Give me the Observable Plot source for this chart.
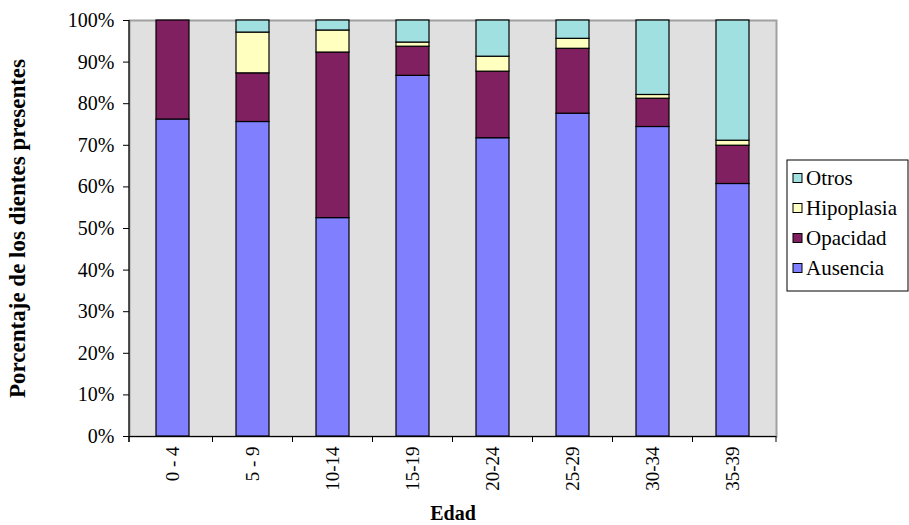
<!DOCTYPE html>
<html>
<head>
<meta charset="utf-8">
<script src="https://cdn.jsdelivr.net/npm/d3@7"></script>
<script src="https://cdn.jsdelivr.net/npm/@observablehq/plot@0.6"></script>
<style>
  body { margin: 0; background: #fff; }
  #chart svg, #chart svg text { font-family: "Liberation Serif", "Times New Roman", serif; }
</style>
</head>
<body>
<div id="chart"></div>
<script>
// Grupos de edad (eje X)
const edades = ["0 - 4", "5 - 9", "10-14", "15-19", "20-24", "25-29", "30-34", "35-39"];
// Series apiladas, de abajo hacia arriba
const series = ["Ausencia", "Opacidad", "Hipoplasia", "Otros"];
const colores = ["#8080ff", "#802060", "#ffffc0", "#a0e0e0"];
// Porcentaje de los dientes presentes por grupo de edad
const ausencia   = [76.2, 75.6, 52.5, 86.7, 71.7, 77.6, 74.4, 60.7];
const opacidad   = [23.8, 11.7, 39.8,  7.0, 16.0, 15.6,  6.8,  9.2];
const hipoplasia = [ 0.0,  9.8,  5.3,  1.0,  3.6,  2.4,  0.9,  1.2];
const otros      = [ 0.0,  2.9,  2.4,  5.3,  8.7,  4.4, 17.9, 28.9];
// Marcas del eje Y
const yTicks = [0, 10, 20, 30, 40, 50, 60, 70, 80, 90, 100];

const valores = [ausencia, opacidad, hipoplasia, otros];
const datos = series.flatMap((serie, s) =>
  edades.map((edad, i) => ({edad, serie, valor: valores[s][i]}))
).filter(d => d.valor > 0);

const SERIF = '"Liberation Serif", "Times New Roman", serif';

// Marcas auxiliares: línea del eje Y, marcas de separación del eje X y leyenda
function extras(index, scales, values, dimensions) {
  const {x, color} = scales;
  const {width, height, marginLeft, marginRight, marginTop, marginBottom} = dimensions;
  const g = d3.create("svg:g").style("font-family", SERIF).attr("text-anchor", "start");
  const x0 = marginLeft, x1 = width - marginRight;
  const y0 = marginTop, y1 = height - marginBottom;
  const bw = typeof x.bandwidth === "function" ? x.bandwidth() : 0;

  // eje Y
  g.append("line").attr("x1", x0).attr("x2", x0).attr("y1", y0).attr("y2", y1 + 6)
    .attr("stroke", "#000").attr("stroke-width", 1.2);
  // marcas entre categorías
  const bordes = [x0];
  for (let i = 1; i < edades.length; i++) bordes.push((x(edades[i - 1]) + x(edades[i]) + bw) / 2);
  bordes.push(x1);
  g.selectAll(".sep").data(bordes).join("line")
    .attr("x1", d => d).attr("x2", d => d).attr("y1", y1).attr("y2", y1 + 6)
    .attr("stroke", "#000").attr("stroke-width", 1);

  // leyenda
  const lx = x1 + 11, ly = 160, lw = 121, lh = 131;
  g.append("rect").attr("x", lx).attr("y", ly).attr("width", lw).attr("height", lh)
    .attr("fill", "#fff").attr("stroke", "#000").attr("stroke-width", 1);
  const orden = series.slice().reverse();
  const item = g.selectAll(".item").data(orden).join("g")
    .attr("transform", (d, i) => `translate(${lx + 6},${ly + 18 + i * 30})`);
  item.append("rect").attr("x", 0).attr("y", -4.5).attr("width", 9).attr("height", 9)
    .attr("fill", d => color(d)).attr("stroke", "#000").attr("stroke-width", 1);
  item.append("text").attr("x", 13).attr("y", 0).attr("dy", "0.35em")
    .style("font-family", SERIF).style("font-size", "21px")
    .attr("fill", "#000").text(d => d);
  return g.node();
}

const chart = Plot.plot({
  width: 909,
  height: 525,
  marginLeft: 129,
  marginRight: 133,
  marginTop: 20,
  marginBottom: 89,
  style: {fontFamily: SERIF, fontSize: "20px", background: "#fff"},
  x: {domain: edades, paddingInner: 0.59, paddingOuter: 0.295, label: null},
  y: {domain: [0, 100], label: null},
  color: {domain: series, range: colores},
  marks: [
    Plot.frame({fill: "#e0e0e0", stroke: "#a0a0a0", strokeWidth: 2}),
    Plot.barY(datos, {x: "edad", y: "valor", fill: "serie", stroke: "#000", strokeWidth: 1.2}),
    Plot.ruleY([0], {stroke: "#000", strokeWidth: 1.2}),
    Plot.axisY({ticks: yTicks, tickFormat: d => d + "%", tickSize: 6, tickPadding: 9, fontSize: 20, color: "#000", label: null}),
    Plot.axisX({tickSize: 0, tickRotate: -90, tickPadding: 10, fontSize: 19, color: "#000", label: null}),
    Plot.text(["Edad"], {frameAnchor: "bottom", dy: 83, fontWeight: "bold", fontSize: 20, fill: "#000"}),
    Plot.text(["Porcentaje de los dientes presentes"], {frameAnchor: "left", textAnchor: "middle", dx: -112, rotate: -90, fontWeight: "bold", fontSize: 23, fill: "#000"}),
    extras
  ]
});
document.getElementById("chart").append(chart);
</script>
</body>
</html>
